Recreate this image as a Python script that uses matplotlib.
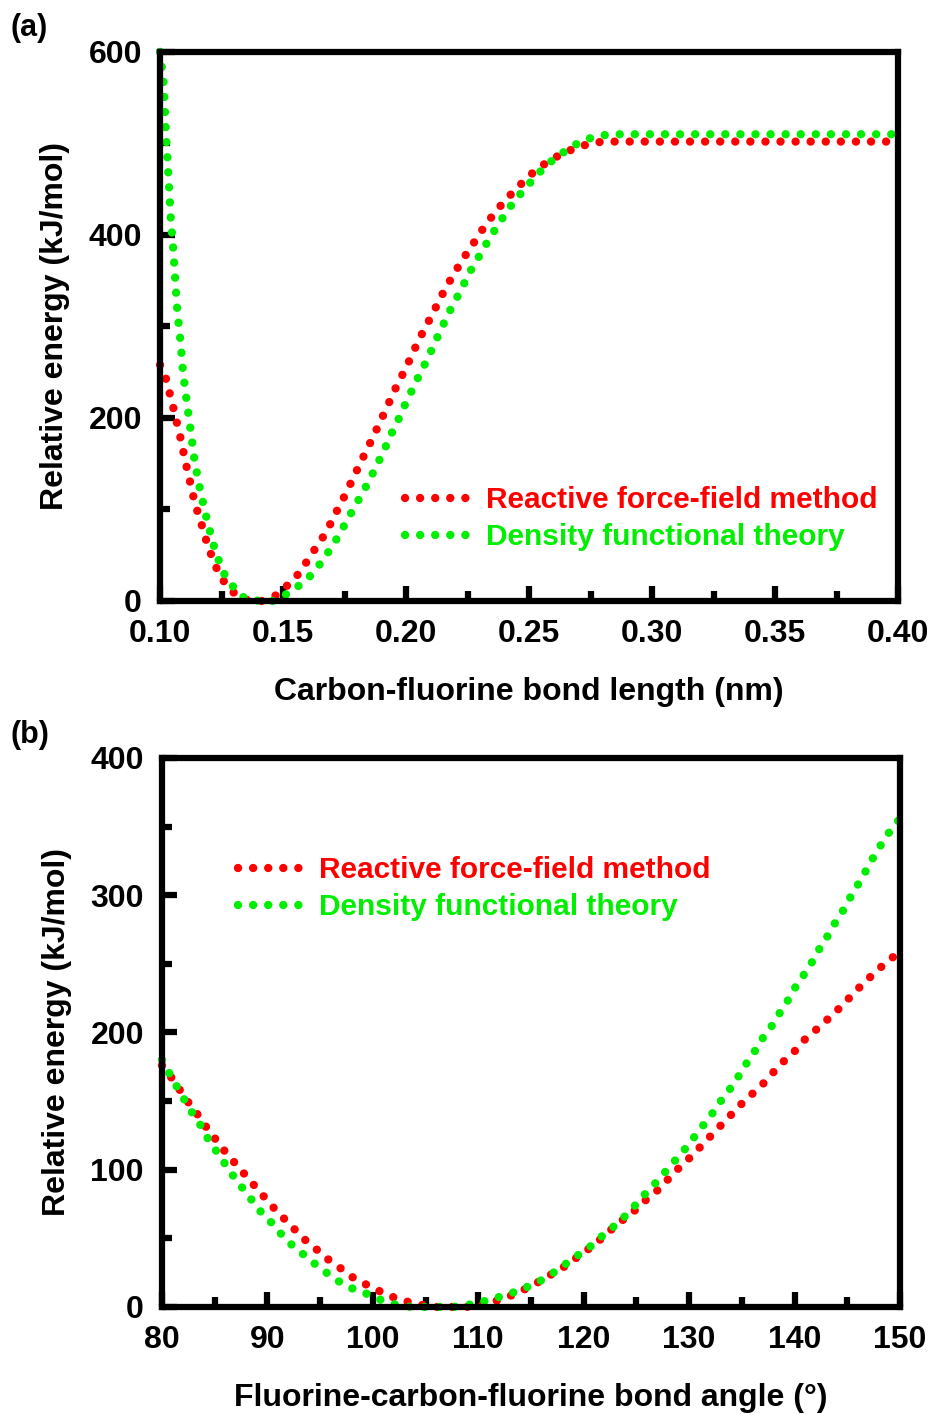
import matplotlib
matplotlib.use('Agg')
import matplotlib.pyplot as plt
from matplotlib.ticker import MultipleLocator, FormatStrFormatter

plt.rcParams['font.family'] = ['Liberation Sans', 'DejaVu Sans']
plt.rcParams['font.weight'] = 'bold'

RED = '#ff0000'
GREEN = '#00ee00'

# (a) C-F bond length scan
len_rff = [0.100, 0.1027, 0.104, 0.1055, 0.107, 0.1085, 0.1097, 0.111, 0.1124, 0.1138,
           0.1154, 0.1173, 0.119, 0.121, 0.1234, 0.1265, 0.130, 0.136, 0.1417, 0.147,
           0.151, 0.1555, 0.1594, 0.1628, 0.1663, 0.1694, 0.172, 0.1747, 0.1774, 0.1806,
           0.1838, 0.1864, 0.189, 0.1916, 0.1943, 0.1969, 0.1997, 0.2024, 0.205, 0.2078,
           0.2107, 0.2132, 0.2161, 0.2194, 0.2225, 0.2257, 0.2292, 0.2325, 0.2361, 0.2397,
           0.2436, 0.248, 0.2524, 0.2576, 0.2629, 0.268, 0.2737, 0.2798, 0.30, 0.35, 0.40]
e_len_rff = [258, 241, 226, 210, 193, 176, 160, 144, 128, 111,
             96, 80, 64, 49, 33, 19, 9, 0, 0, 6,
             15, 27, 42, 56, 70, 85, 99, 113, 128, 146,
             164, 178, 193, 208, 224, 239, 253, 269, 284, 299,
             313, 327, 342, 357, 371, 384, 398, 412, 424, 436,
             447, 459, 470, 480, 488, 494, 499, 502, 502, 502, 502]

len_dft = [0.100, 0.1015, 0.1023, 0.1034, 0.1044, 0.1054, 0.1062, 0.107, 0.1083, 0.1093,
           0.1108, 0.1125, 0.1141, 0.1164, 0.1192, 0.1222, 0.1243, 0.1267, 0.1302, 0.1347,
           0.141, 0.1468, 0.1517, 0.1566, 0.1609, 0.1652, 0.1688, 0.1723, 0.1754, 0.1793,
           0.1825, 0.1853, 0.1884, 0.191, 0.1933, 0.1962, 0.1988, 0.2013, 0.2039, 0.2066,
           0.2095, 0.212, 0.2172, 0.22, 0.2229, 0.2256, 0.2287, 0.2317, 0.2348, 0.2382,
           0.2415, 0.245, 0.2488, 0.2527, 0.257, 0.2616, 0.2666, 0.2717, 0.2777, 0.2836,
           0.30, 0.35, 0.40]
e_len_dft = [600, 565, 516, 466, 416, 384, 350, 317, 284, 251,
             219, 185, 152, 120, 87, 57, 41, 26, 14, 2,
             0, 0, 8, 17, 27, 41, 55, 70, 85, 104,
             119, 133, 150, 164, 179, 194, 210, 224, 239, 253,
             269, 284, 314, 328, 343, 358, 372, 386, 400, 414,
             428, 440, 452, 464, 476, 486, 495, 503, 508, 510,
             510, 510, 510]

# (b) F-C-F bond angle scan
ang_rff = [80, 80.9, 81.7, 82.6, 83.4, 84.2, 85.1, 86.0, 86.9, 87.8,
           88.7, 89.6, 90.5, 91.5, 92.4, 93.4, 94.5, 95.7, 96.8, 98.0,
           99.2, 100.5, 101.8, 103.2, 104.6, 106.0, 107.5, 108.8, 110.2, 111.1,
           112.3, 113.5, 114.7, 115.9, 117.2, 118.5, 119.5, 120.6, 121.7, 122.7,
           123.8, 124.8, 125.9, 127.0, 128.0, 129.0, 130.1, 131.1, 132.1, 133.1,
           134.1, 135.1, 136.1, 137.2, 138.1, 139.1, 140.1, 141.1, 142.2, 143.2,
           144.3, 145.3, 146.3, 147.4, 148.4, 150.0]
e_ang_rff = [176, 167, 158, 148, 140, 131, 122, 113, 105, 97,
             89, 81, 73, 65, 58, 50, 43, 35, 29, 22,
             17, 12, 7.5, 4, 1.5, 0, 0, 0, 1, 3,
             6, 9.5, 14, 19, 25, 31, 37, 43, 50, 57,
             64, 70, 78, 85, 93, 101, 109, 117, 125, 133,
             141, 149, 156, 164, 172, 180, 187, 196, 203, 210,
             218, 226, 234, 242, 249, 259]

ang_dft = [80, 81.0, 82.2, 82.9, 83.7, 84.4, 85.2, 86.0, 86.8, 87.7,
           88.5, 89.3, 90.2, 91.2, 92.2, 93.3, 94.4, 95.6, 96.8, 98.0,
           99.3, 100.6, 101.9, 103.3, 104.7, 106.1, 107.5, 108.5, 109.9, 111.3,
           112.7, 113.9, 115.2, 116.4, 117.5, 118.6, 119.7, 120.8, 121.8, 122.9,
           123.9, 125.0, 125.9, 126.9, 127.8, 128.7, 129.5, 130.4, 131.3, 132.2,
           132.9, 133.8, 134.6, 135.4, 136.2, 136.9, 137.7, 138.4, 139.2, 139.9,
           140.7, 141.5, 142.1, 142.9, 143.6, 144.4, 145.1, 145.8, 146.5, 147.2,
           147.9, 148.7, 150.0]
e_ang_dft = [180, 166, 150, 141, 132, 122, 113, 104, 95, 86,
             78, 70, 63, 54, 46, 39, 32, 25, 18.5, 13.6,
             10, 5.6, 2.2, 0.2, 0, 0, 0, 0.5, 3, 5.6,
             9, 12, 16.5, 21, 27, 33, 39, 45, 52, 59,
             66, 75, 83, 91, 99, 107, 114, 123, 132, 141,
             149, 158, 167, 177, 186, 195, 203, 212, 221, 231,
             240, 249, 258, 267, 277, 286, 296, 305, 314, 324,
             333, 343, 356]

labels = ['Reactive force-field method', 'Density functional theory']

dot = dict(linestyle=(0, (0.01, 1.8)), linewidth=6, dash_capstyle='round', clip_on=False)

fig = plt.figure(figsize=(9.31, 14.14), dpi=100)
ax1 = fig.add_axes([0.1719, 0.5750, 0.7927, 0.3883])
ax2 = fig.add_axes([0.1740, 0.0757, 0.7927, 0.3883])


def style(ax):
    for s in ax.spines.values():
        s.set_linewidth(4.5)
    ax.tick_params(which='both', direction='in', width=4.5, top=False, right=False,
                   labelsize=23, pad=13)
    ax.tick_params(which='major', length=11)
    ax.tick_params(which='minor', length=7.5)
    for t in ax.get_xticklabels() + ax.get_yticklabels():
        t.set_fontweight('bold')


ax1.plot(len_rff, e_len_rff, color=RED, label=labels[0], **dot)
ax1.plot(len_dft, e_len_dft, color=GREEN, label=labels[1], **dot)
ax1.set_xlim(0.10, 0.40)
ax1.set_ylim(0, 600)
ax1.xaxis.set_major_locator(MultipleLocator(0.05))
ax1.xaxis.set_minor_locator(MultipleLocator(0.025))
ax1.xaxis.set_major_formatter(FormatStrFormatter('%.2f'))
ax1.yaxis.set_major_locator(MultipleLocator(200))
ax1.yaxis.set_minor_locator(MultipleLocator(100))
ax1.set_xlabel('Carbon-fluorine bond length (nm)', fontsize=23, fontweight='bold', labelpad=20)
ax1.set_ylabel('Relative energy (kJ/mol)', fontsize=23, fontweight='bold', labelpad=13)
style(ax1)

ax2.plot(ang_rff, e_ang_rff, color=RED, label=labels[0], **dot)
ax2.plot(ang_dft, e_ang_dft, color=GREEN, label=labels[1], **dot)
ax2.set_xlim(80, 150)
ax2.set_ylim(0, 400)
ax2.xaxis.set_major_locator(MultipleLocator(10))
ax2.xaxis.set_minor_locator(MultipleLocator(5))
ax2.yaxis.set_major_locator(MultipleLocator(100))
ax2.yaxis.set_minor_locator(MultipleLocator(50))
ax2.set_xlabel('Fluorine-carbon-fluorine bond angle (°)', fontsize=23, fontweight='bold', labelpad=20)
ax2.set_ylabel('Relative energy (kJ/mol)', fontsize=23, fontweight='bold', labelpad=13)
style(ax2)

for ax, anchor in [(ax1, (0.332, 0.209)), (ax2, (0.103, 0.821))]:
    leg = ax.legend(loc='upper left', bbox_to_anchor=anchor, frameon=False,
                    fontsize=21.5, handlelength=2.25, handletextpad=0.45,
                    labelspacing=0.3, borderpad=0, borderaxespad=0)
    for txt, col in zip(leg.get_texts(), [RED, GREEN]):
        txt.set_color(col)
        txt.set_fontweight('bold')

fig.text(0.011, 0.980, '(a)', fontsize=22, fontweight='bold', va='center')
fig.text(0.011, 0.480, '(b)', fontsize=22, fontweight='bold', va='center')

fig.savefig('out.png', dpi=100)
